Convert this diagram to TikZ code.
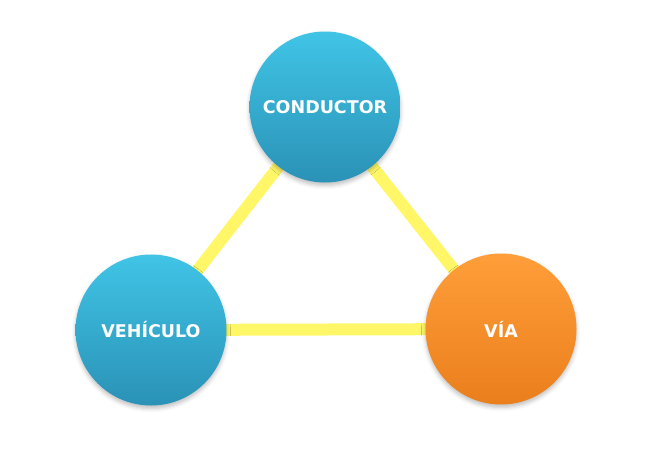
\documentclass[tikz,border=0pt]{standalone}
\usepackage{fontspec}
\setmainfont{DejaVu Sans}
\usetikzlibrary{shadows.blur}
\definecolor{linkyellow}{HTML}{FFF768}
\definecolor{bluetop}{HTML}{40C4E6}
\definecolor{bluebot}{HTML}{2A92B6}
\definecolor{orgtop}{HTML}{FF9E3A}
\definecolor{orgbot}{HTML}{EA7F1C}
\tikzset{
  ball/.style={circle, minimum size=151pt, inner sep=0pt,
    blur shadow={shadow xshift=0pt, shadow yshift=-3pt, shadow blur radius=4pt, shadow opacity=25}},
  blueball/.style={ball, top color=bluetop, bottom color=bluebot},
  orangeball/.style={ball, top color=orgtop, bottom color=orgbot},
  link/.style={draw=linkyellow, line width=12pt},
  lbl/.style={font=\bfseries\fontsize{17.5}{20}\selectfont, text=white}
}
\begin{document}
\begin{tikzpicture}[x=1pt,y=-1pt]
\useasboundingbox (0,0) rectangle (650,452);
\coordinate (c) at (325,107);
\coordinate (v) at (151,330);
\coordinate (a) at (501,329);
\draw[link] (c) -- (v);
\draw[link] (c) -- (a);
\draw[link] (v) -- (a);
\node[blueball] (cond) at (c) {};
\node[blueball] (veh) at (v) {};
\node[orangeball] (via) at (a) {};
\node[lbl] (tc) at (cond.center) {CONDUCTOR};
\node[lbl] (tv) at (veh.center) {VEHÍCULO};
\node[lbl] (ta) at (via.center) {VÍA};
\end{tikzpicture}
\end{document}
